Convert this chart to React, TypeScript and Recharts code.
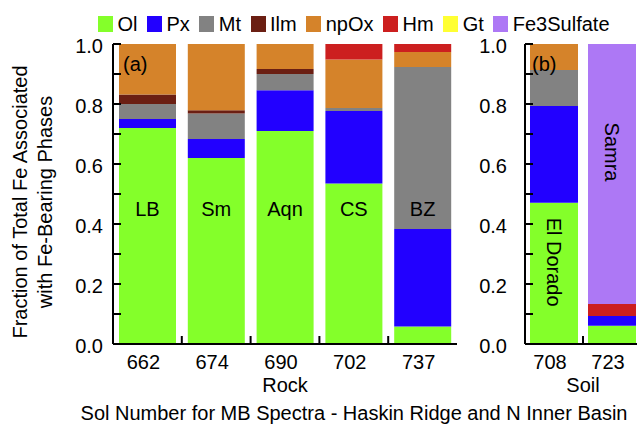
import React from "react"
import { BarChart, Bar, XAxis, YAxis, ReferenceDot } from "recharts"

// phases, bottom of the stack first
const phases = ["Ol", "Px", "Mt", "Ilm", "npOx", "Hm", "Gt", "Fe3Sulfate"]
const phaseColors = ["#84ff2a", "#2200ff", "#828282", "#6b1f13", "#d5832a", "#cc1f1f", "#ffff33", "#ad78f5"]

// (a) rock
const rockSols = ["662", "674", "690", "702", "737"]
const rockNames = ["LB", "Sm", "Aqn", "CS", "BZ"]
const rockOl = [0.72, 0.62, 0.71, 0.535, 0.058]
const rockPx = [0.03, 0.063, 0.136, 0.242, 0.325]
const rockMt = [0.05, 0.085, 0.054, 0.01, 0.54]
const rockIlm = [0.032, 0.011, 0.017, 0, 0]
const rockNpOx = [0.168, 0.221, 0.083, 0.161, 0.05]
const rockHm = [0, 0, 0, 0.052, 0.027]
const rockGt = [0, 0, 0, 0, 0]
const rockFe3Sulfate = [0, 0, 0, 0, 0]

// (b) soil
const soilSols = ["708", "723"]
const soilNames = ["El Dorado", "Samra"]
const soilOl = [0.471, 0.061]
const soilPx = [0.322, 0.032]
const soilMt = [0.12, 0]
const soilIlm = [0, 0]
const soilNpOx = [0.087, 0]
const soilHm = [0, 0.04]
const soilGt = [0, 0]
const soilFe3Sulfate = [0, 0.867]

const yTicks = [0, 0.1, 0.2, 0.3, 0.4, 0.5, 0.6, 0.7, 0.8, 0.9, 1.0]

const FONT = "'Liberation Sans', Arial, Helvetica, sans-serif"
const FS = 20

function buildRows(sols: string[], names: string[], cols: number[][]) {
  return sols.map((sol, i) => {
    const row: Record<string, string | number> = { sol, name: names[i] }
    phases.forEach((p, j) => (row[p] = cols[j][i]))
    return row
  })
}

const rockData = buildRows(rockSols, rockNames, [rockOl, rockPx, rockMt, rockIlm, rockNpOx, rockHm, rockGt, rockFe3Sulfate])
const soilData = buildRows(soilSols, soilNames, [soilOl, soilPx, soilMt, soilIlm, soilNpOx, soilHm, soilGt, soilFe3Sulfate])

// y ticks point into the plot; labels only on the even tenths
const makeYTick = (gap: number) => (props: any) => {
  const { x, y, payload, index } = props
  const ax = x + gap
  return (
    <g>
      <line x1={ax} x2={ax + 8} y1={y} y2={y} stroke="#000" strokeWidth={2} />
      {index % 2 === 0 && (
        <text x={x} y={y} dy={9} textAnchor="end" fontSize={FS} fontFamily={FONT} fill="#000">
          {Number(payload.value).toFixed(1)}
        </text>
      )}
    </g>
  )
}

// x ticks sit on the category boundaries, labels in the middle
const makeXTick = (halfBand: number, n: number) => (props: any) => {
  const { x, y, payload, index } = props
  return (
    <g>
      {index < n - 1 && (
        <line x1={x + halfBand} x2={x + halfBand} y1={y} y2={y - 8} stroke="#000" strokeWidth={2} />
      )}
      <text x={x - 4} y={y} dy={25} textAnchor="middle" fontSize={FS} fontFamily={FONT} fill="#000">
        {payload.value}
      </text>
    </g>
  )
}

type PanelProps = {
  data: Record<string, string | number>[]
  width: number
  yAxisWidth: number
  rightMargin: number
  barSize: number
  tickGap: number
  halfBand: number
  title: string
  labelLevels: number[]
  labelAngle: number
}

function renderPanel(p: PanelProps) {
  return (
    <BarChart
      width={p.width}
      height={424}
      data={p.data}
      margin={{ top: 44, right: p.rightMargin, bottom: 30, left: 0 }}
      barSize={p.barSize}
    >
      <XAxis
        dataKey="sol"
        height={50}
        axisLine={{ stroke: "#000", strokeWidth: 2 }}
        tickLine={false}
        tickSize={0}
        tickMargin={0}
        interval={0}
        tick={makeXTick(p.halfBand, p.data.length)}
        label={{ value: p.title, position: "insideBottom", offset: 2, fontSize: FS, fontFamily: FONT, fill: "#000" }}
      />
      <XAxis xAxisId="top" dataKey="sol" orientation="top" height={0} tick={false} tickLine={false} axisLine={{ stroke: "#000", strokeWidth: 2 }} />
      <YAxis
        width={p.yAxisWidth}
        domain={[0, 1]}
        ticks={yTicks}
        interval={0}
        tickLine={false}
        tickSize={0}
        tickMargin={p.tickGap}
        axisLine={{ stroke: "#000", strokeWidth: 2 }}
        tick={makeYTick(p.tickGap)}
      />
      <YAxis yAxisId="right" orientation="right" width={0} domain={[0, 1]} tick={false} tickLine={false} axisLine={{ stroke: "#000", strokeWidth: 2 }} />
      {phases.map((ph, i) => (
        <Bar key={ph} dataKey={ph} stackId="fe" fill={phaseColors[i]} isAnimationActive={false} />
      ))}
      {p.data.map((d, i) => (
        <ReferenceDot
          key={String(d.sol)}
          x={d.sol as string}
          y={p.labelLevels[i]}
          r={0}
          fill="none"
          stroke="none"
          label={{ value: d.name as string, position: "center", angle: p.labelAngle, fontSize: FS, fontFamily: FONT, fill: "#000" }}
        />
      ))}
    </BarChart>
  )
}

export default function App() {
  return (
    <div style={{ position: "absolute", left: 0, top: 0, width: 637, height: 424, overflow: "hidden", background: "#fff", fontFamily: FONT }}>
      <div style={{ position: "absolute", left: 0, top: 0 }}>
        {renderPanel({
          data: rockData,
          width: 470,
          yAxisWidth: 113,
          rightMargin: 13,
          barSize: 57,
          tickGap: 10,
          halfBand: 34.4,
          title: "Rock",
          labelLevels: [0.45, 0.45, 0.45, 0.45, 0.45],
          labelAngle: 0,
        })}
      </div>
      <div style={{ position: "absolute", left: 440, top: 0 }}>
        {renderPanel({
          data: soilData,
          width: 220,
          yAxisWidth: 85,
          rightMargin: 19,
          barSize: 48,
          tickGap: 18,
          halfBand: 29,
          title: "Soil",
          labelLevels: [0.273, 0.64],
          labelAngle: 90,
        })}
      </div>
      <svg width={637} height={424} style={{ position: "absolute", left: 0, top: 0, pointerEvents: "none" }}>
        <g fontFamily={FONT} fontSize={FS} fill="#000">
          <text transform="translate(27,202) rotate(-90)" textAnchor="middle">Fraction of Total Fe Associated</text>
          <text transform="translate(52,202) rotate(-90)" textAnchor="middle">with Fe-Bearing Phases</text>
          <text x={354} y={420} textAnchor="middle">Sol Number for MB Spectra - Haskin Ridge and N Inner Basin</text>
          <text x={123} y={71}>(a)</text>
          <text x={532} y={71}>(b)</text>
        </g>
      </svg>
      <div style={{ position: "absolute", left: 98, top: 14, display: "flex", alignItems: "center", fontSize: FS, lineHeight: "20px", color: "#000" }}>
        {phases.map((ph, i) => (
          <span key={ph} style={{ display: "flex", alignItems: "center", marginRight: 9.5 }}>
            <span style={{ width: 15, height: 16, background: phaseColors[i], marginRight: 4.5 }} />
            {ph}
          </span>
        ))}
      </div>
    </div>
  )
}
